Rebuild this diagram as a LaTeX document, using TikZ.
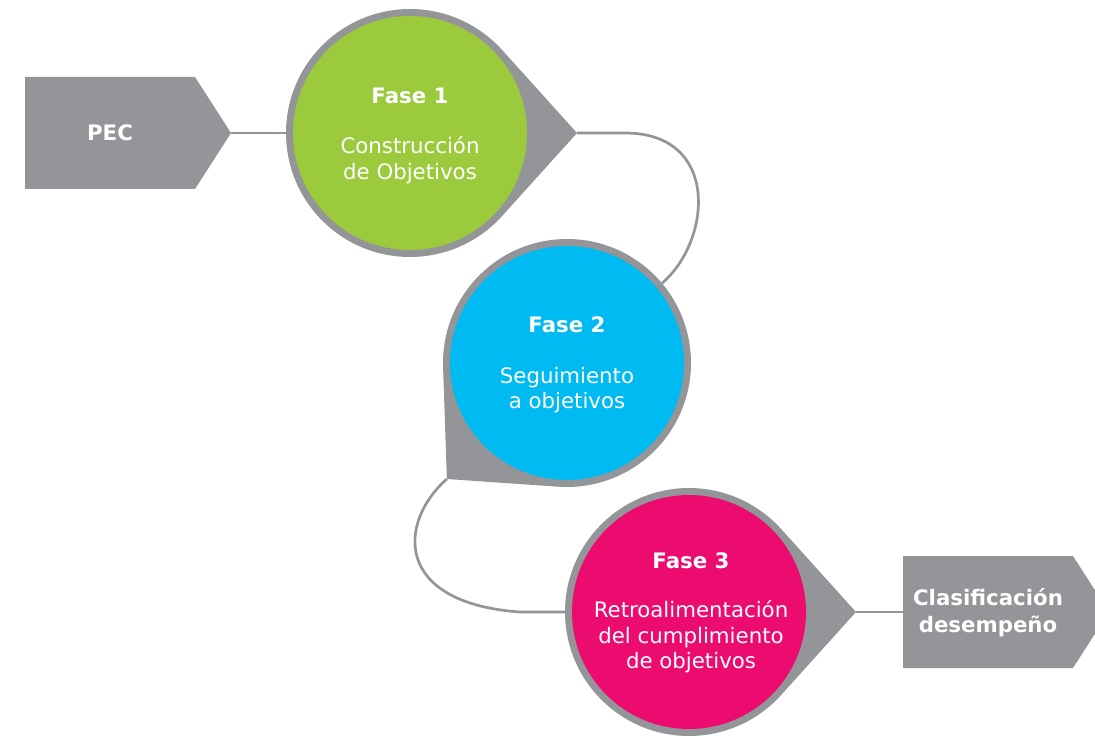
\documentclass[tikz,border=0pt]{standalone}
\usepackage{fontspec}
\setmainfont{DejaVu Sans}
\usetikzlibrary{calc}
\definecolor{gr}{HTML}{939598}
\definecolor{fgreen}{HTML}{9BCA3C}
\definecolor{fblue}{HTML}{00BAF2}
\definecolor{fpink}{HTML}{EC0B6E}
\begin{document}
\begin{tikzpicture}[x=1pt,y=-1pt,
  lbl/.style={text=white, font=\fontsize{21.3}{25.5}\selectfont, align=center, inner sep=0},
  ttl/.style={text=white, font=\fontsize{21.3}{27}\selectfont\bfseries, align=center, inner sep=0},
  conn/.style={draw=gr, line width=2.7pt}]
\useasboundingbox (0,0) rectangle (1095,738);
\clip (0,0) rectangle (1095,738);

% input / output boxes
\fill[gr] (25,77) -- (195,77) -- (231,133) -- (195,189) -- (25,189) -- cycle;
\coordinate (pectip) at (231,133);
\node[ttl] (pec) at (110,133) {PEC};

\fill[gr] (903,556) -- (1073,556) -- (1109,612) -- (1073,668) -- (903,668) -- cycle;
\coordinate (clsin) at (903,612);
\node[ttl] (cls) at (988,613) {Clasificación\\desempeño};

% teardrops
\foreach \cx/\cy/\dir/\col/\nm in {410/133/0/fgreen/1, 567/363/136/fblue/2, 689/612/0/fpink/3} {
  \pgfmathsetmacro\ang{acos(124/167)}
  \fill[gr] (\cx,\cy) ++(\dir:167) coordinate (tip\nm)
     -- ($(\cx,\cy)+(\dir+\ang:124)$)
     arc[start angle=\dir+\ang, end angle=\dir-\ang+360, radius=124] -- cycle;
  \node[circle, fill=\col, minimum size=234, inner sep=0] (f\nm) at (\cx,\cy) {};
  \node[circle, minimum size=248, inner sep=0] (o\nm) at (\cx,\cy) {};
}

% connectors
\draw[conn] (pectip) -- (o1.west);
\draw[conn] (tip1) -- ++(48,0) .. controls +(95,0) and (712,240) .. (o2.40);
\draw[conn] (tip2) .. controls (398,522) and (393,603) .. (520,612) -- (o3.west);
\draw[conn] (tip3) -- (clsin);

% texts
\node[ttl] (t1) at (410,96) {Fase 1};
\node[lbl] (d1) at (410,160) {Construcción\\de Objetivos};
\node[ttl] (t2) at (567,325) {Fase 2};
\node[lbl] (d2) at (567,390) {Seguimiento\\a objetivos};
\node[ttl] (t3) at (691,561) {Fase 3};
\node[lbl] (d3) at (691,637) {Retroalimentación\\del cumplimiento\\de objetivos};
\end{tikzpicture}
\end{document}
